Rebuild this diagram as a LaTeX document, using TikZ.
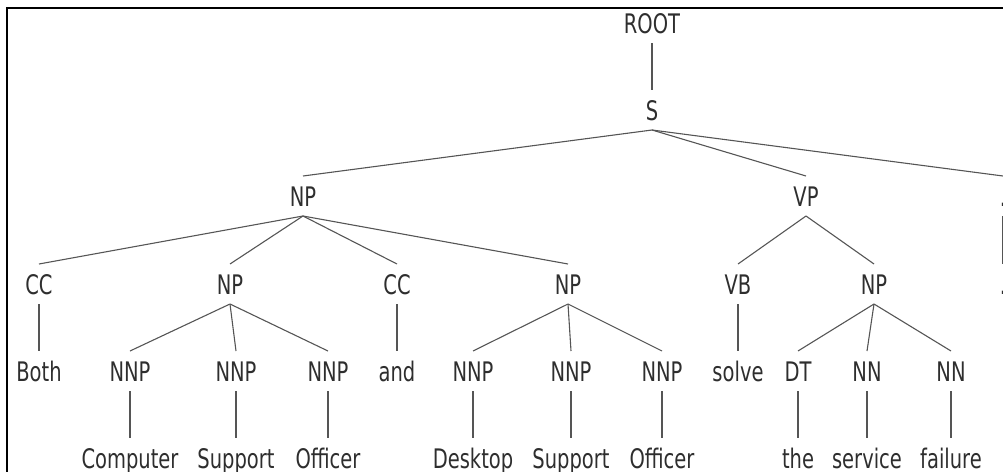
\documentclass[tikz,border=0pt]{standalone}
\usepackage{fontspec}
\setmainfont{DejaVu Sans}
\usepackage{graphicx}
\definecolor{txt}{HTML}{2E2E2E}
\definecolor{edge}{HTML}{555555}
\newcommand{\tl}[1]{\scalebox{1}[1.38]{#1}}
\begin{document}
\begin{tikzpicture}[x=1pt,y=-1pt,
  lab/.style={inner sep=0pt, outer xsep=0pt, outer ysep=10pt, text height=20pt, text depth=0pt,
    text=txt, font=\fontsize{19.5}{20}\selectfont},
  br/.style={draw=edge, line width=1.1pt}]
\useasboundingbox (0,0) rectangle (1003,471);
\clip (0,0) rectangle (1003,471);
\draw[line width=2pt, black] (7,8) rectangle (1030,500);
% level 0-2
\node[lab] (root) at (652,23) {\tl{ROOT}};
\node[lab] (s) at (652,110) {\tl{S}};
\node[lab] (np) at (303,196) {\tl{NP}};
\node[lab] (vp) at (806,196) {\tl{VP}};
\node[lab] (pt) at (1003,196) {\tl{.}};
% level 3
\node[lab] (cc1) at (39,284) {\tl{CC}};
\node[lab] (npa) at (230,284) {\tl{NP}};
\node[lab] (cc2) at (397,284) {\tl{CC}};
\node[lab] (npb) at (568,284) {\tl{NP}};
\node[lab] (vb) at (738,284) {\tl{VB}};
\node[lab] (npc) at (874,284) {\tl{NP}};
\node[lab] (ptw) at (1003,284) {\tl{.}};
% level 4
\node[lab] (both) at (39,371) {\tl{Both}};
\node[lab] (nnp1) at (130,371) {\tl{NNP}};
\node[lab] (nnp2) at (236,371) {\tl{NNP}};
\node[lab] (nnp3) at (328,371) {\tl{NNP}};
\node[lab] (and) at (397,371) {\tl{and}};
\node[lab] (nnp4) at (473,371) {\tl{NNP}};
\node[lab] (nnp5) at (571,371) {\tl{NNP}};
\node[lab] (nnp6) at (662,371) {\tl{NNP}};
\node[lab] (solve) at (738,371) {\tl{solve}};
\node[lab] (dt) at (798,371) {\tl{DT}};
\node[lab] (nn1) at (867,371) {\tl{NN}};
\node[lab] (nn2) at (951,371) {\tl{NN}};
% level 5
\node[lab] (w1) at (130,458) {\tl{Computer}};
\node[lab] (w2) at (236,458) {\tl{Support}};
\node[lab] (w3) at (328,458) {\tl{Officer}};
\node[lab] (w4) at (473,458) {\tl{Desktop}};
\node[lab] (w5) at (571,458) {\tl{Support}};
\node[lab] (w6) at (662,458) {\tl{Officer}};
\node[lab] (w7) at (798,458) {\tl{the}};
\node[lab] (w8) at (867,458) {\tl{service}};
\node[lab] (w9) at (951,458) {\tl{failure}};
% edges
\foreach \p/\c in {root/s, s/np, s/vp, s/pt, pt/ptw,
  np/cc1, np/npa, np/cc2, np/npb, cc1/both, cc2/and,
  npa/nnp1, npa/nnp2, npa/nnp3, npb/nnp4, npb/nnp5, npb/nnp6,
  nnp1/w1, nnp2/w2, nnp3/w3, nnp4/w4, nnp5/w5, nnp6/w6,
  vp/vb, vp/npc, vb/solve, npc/dt, npc/nn1, npc/nn2,
  dt/w7, nn1/w8, nn2/w9}
  \draw[br] (\p.south) -- (\c.north);
\end{tikzpicture}
\end{document}
